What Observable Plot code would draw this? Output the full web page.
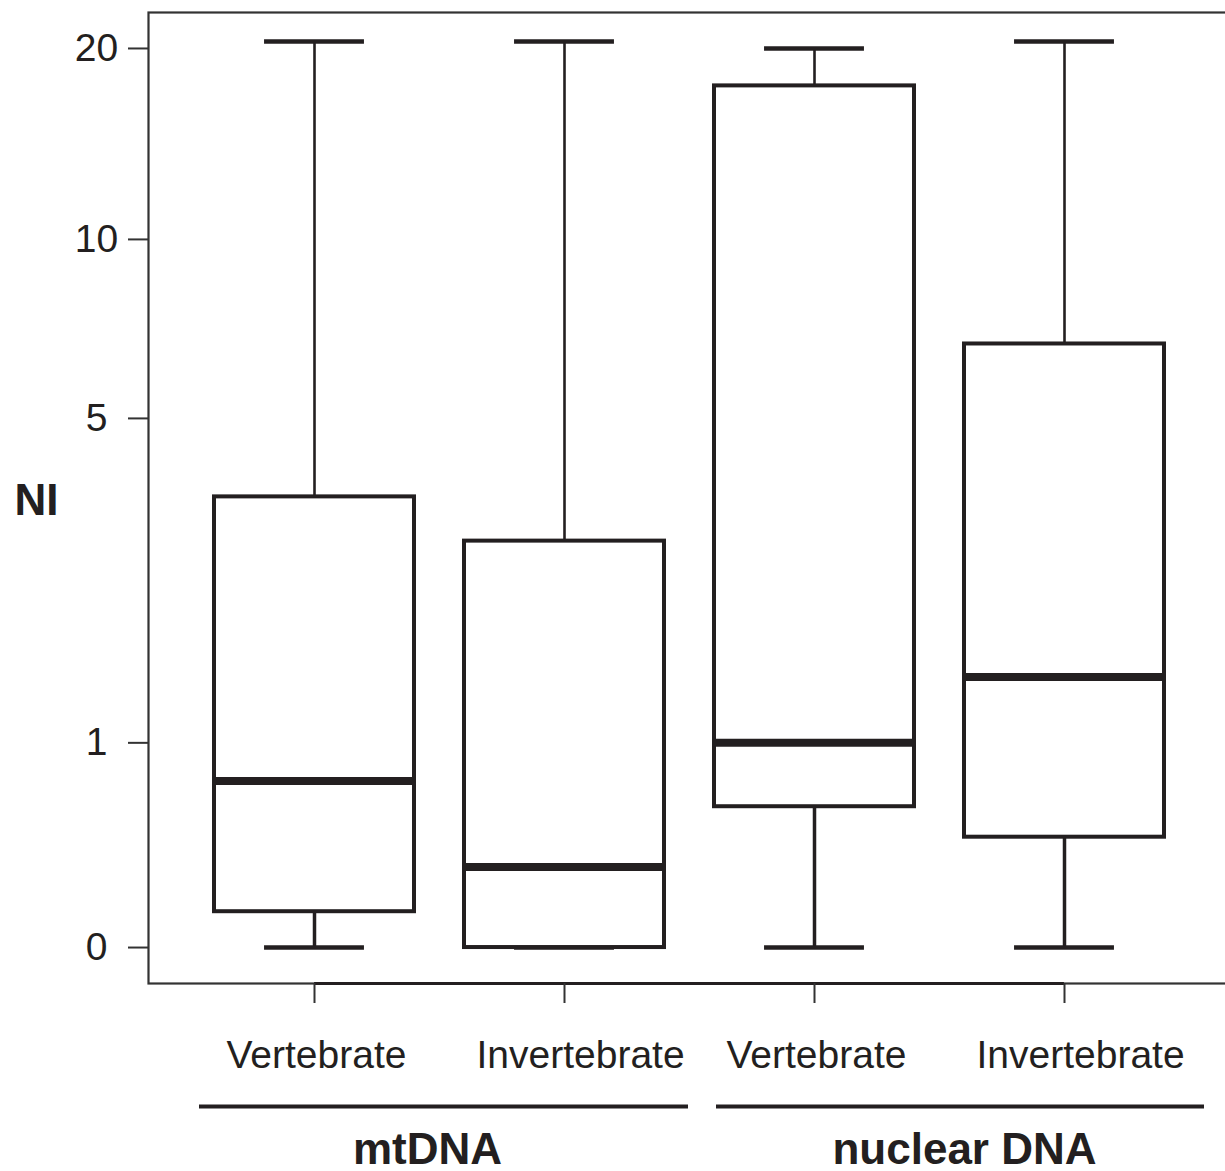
<!DOCTYPE html>
<html>
<head>
<meta charset="utf-8">
<script src="https://cdn.jsdelivr.net/npm/d3@7"></script>
<script src="https://cdn.jsdelivr.net/npm/@observablehq/plot@0.6"></script>
<style>
  html, body { margin: 0; padding: 0; background: #fff; overflow: hidden; }
  #chart { width: 1230px; }
  #chart svg { display: block; max-width: none !important; }
</style>
</head>
<body>
<div id="chart"></div>
<script>
// ---- data ----
const groups = ["mtDNA", "mtDNA", "nuclear DNA", "nuclear DNA"];
const taxa = ["Vertebrate", "Invertebrate", "Vertebrate", "Invertebrate"];
const whiskerLow = [0, 0, 0, 0];
const q1 = [0.129, 0, 0.611, 0.453];
const median = [0.758, 0.314, 1.0, 1.5];
const q3 = [3.6, 2.96, 17.5, 6.72];
const whiskerHigh = [20.5, 20.5, 20.0, 20.5];
const yTicks = [0, 1, 5, 10, 20];
const groupNames = ["mtDNA", "nuclear DNA"];
const yLabel = "NI";

// ---- build table ----
const keys = taxa.map((t, i) => groups[i] + "|" + t);
const rows = keys.map((k, i) => ({
  key: k, group: groups[i], taxon: taxa[i],
  low: whiskerLow[i], q1: q1[i], median: median[i], q3: q3[i], high: whiskerHigh[i]
}));
const groupRows = groupNames.map(g => {
  const ks = keys.filter((k, i) => groups[i] === g);
  return {name: g, first: ks[0], last: ks[ks.length - 1]};
});

const ink = "#231f20";
const W = 1230, mL = 148, mR = 1;
const padInner = 0.2, padOuter = 0.26;
const step = (W - mL - mR) / (keys.length - padInner + 2 * padOuter);
const bw = step * (1 - padInner);
const yDomain = [-0.1295, 22.72];
const xScale = {type: "band", domain: keys, paddingInner: padInner, paddingOuter: padOuter, align: 0.5};
const font = "'Liberation Sans', Arial, Helvetica, sans-serif";

const main = Plot.plot({
  width: W, height: 1085,
  marginTop: 12, marginBottom: 102, marginLeft: mL, marginRight: mR,
  style: {fontFamily: font, fontSize: "39px", color: ink, background: "#fff", maxWidth: "none"},
  x: xScale,
  y: {type: "symlog", constant: 1, domain: yDomain},
  marks: [
    Plot.frame({stroke: "#333", strokeWidth: 2.2}),
    Plot.ruleY([yDomain[0]], {x1: () => keys[0], x2: () => keys[keys.length - 1], insetLeft: bw / 2, insetRight: bw / 2, stroke: ink, strokeWidth: 3.2}),
    // whiskers
    Plot.ruleX(rows, {x: "key", y1: "low", y2: "q1", stroke: ink, strokeWidth: 3.5}),
    Plot.ruleX(rows, {x: "key", y1: "q3", y2: "high", stroke: ink, strokeWidth: 2.6}),
    // staples
    Plot.tickY(rows, {x: "key", y: "low", insetLeft: bw / 4, insetRight: bw / 4, stroke: ink, strokeWidth: 4.5}),
    Plot.tickY(rows, {x: "key", y: "high", insetLeft: bw / 4, insetRight: bw / 4, stroke: ink, strokeWidth: 4.5}),
    // boxes
    Plot.barY(rows, {x: "key", y1: "q1", y2: "q3", fill: "white", stroke: ink, strokeWidth: 4}),
    // medians
    Plot.tickY(rows, {x: "key", y: "median", stroke: ink, strokeWidth: 8}),
    // axes
    Plot.axisY({ticks: yTicks, tickFormat: d => String(d), tickSize: 20, tickPadding: 32, textAnchor: "middle", label: null, stroke: "#333", strokeWidth: 2, fill: ink}),
    Plot.axisX({tickSize: 20, fill: "none", label: null, stroke: "#333", strokeWidth: 2}),
    Plot.axisX({stroke: "none", tickSize: 20, tickPadding: 37, textAnchor: "start", dx: -88, tickFormat: k => k.split("|")[1], label: null, fill: ink}),
    Plot.text([yLabel], {text: d => d, frameAnchor: "left", textAnchor: "middle", dx: -112, dy: 3, fontWeight: "bold", fontSize: 44, fill: ink})
  ]
});

const lower = Plot.plot({
  width: W, height: 86,
  marginTop: 0, marginBottom: 0, marginLeft: mL, marginRight: mR,
  style: {fontFamily: font, fontSize: "39px", color: ink, background: "#fff", maxWidth: "none"},
  x: {...xScale, axis: null},
  y: {domain: [0, 1], range: [21, 78], axis: null},
  marks: [
    Plot.ruleY(groupRows.filter(d => d.name === groupNames[0]), {x1: "first", x2: "last", y: () => 0, insetLeft: -15, insetRight: -24, stroke: ink, strokeWidth: 4}),
    Plot.ruleY(groupRows.filter(d => d.name === groupNames[1]), {x1: "first", x2: "last", y: () => 0, insetLeft: 2, insetRight: -40, stroke: ink, strokeWidth: 4}),
    Plot.text(groupRows.filter(d => d.name === groupNames[0]), {x: "first", y: () => 1, text: "name", dx: 113, lineAnchor: "bottom", fontWeight: "bold", fontSize: 44, fill: ink}),
    Plot.text(groupRows.filter(d => d.name === groupNames[1]), {x: "first", y: () => 1, text: "name", dx: 150, lineAnchor: "bottom", fontWeight: "bold", fontSize: 44, fill: ink})
  ]
});

const el = document.getElementById("chart");
el.append(main, lower);
</script>
</body>
</html>
